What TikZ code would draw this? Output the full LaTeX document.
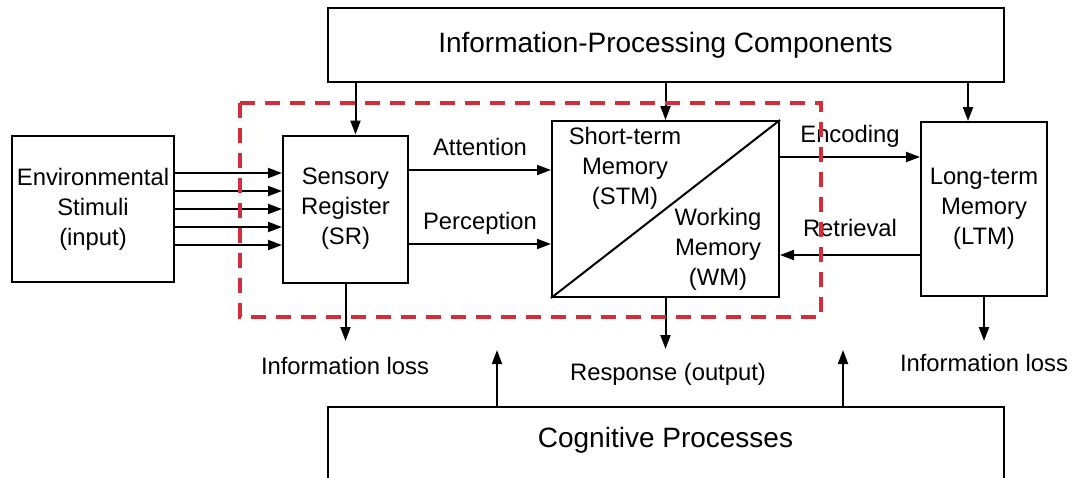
\documentclass[tikz,border=0pt]{standalone}
\usepackage{fontspec}
\setmainfont{Liberation Sans}
\usetikzlibrary{arrows.meta}
\definecolor{dashRed}{RGB}{211,45,58}
\newcommand{\lblfont}{\fontsize{11.9}{15}\selectfont}
\newcommand{\ttlfont}{\fontsize{14}{17}\selectfont}

\begin{document}
\begin{tikzpicture}[
    x=0.5pt, y=-0.5pt,
    line width=1pt,
    font=\lblfont,
    arr/.style={line width=1pt, -{Triangle[length=7pt, width=5pt]}},
    box/.style={
        rectangle,
        draw=black,
        line width=1pt,
        align=center,
        inner sep=0pt,
      },
    bigbox/.style={box, minimum width=338pt, font=\ttlfont},
    core/.style={draw=dashRed, line width=2pt, dash pattern=on 7.5pt off 5pt},
    ma/.style={midway, above=3.5pt},
    mad/.style={midway, above=0.8pt},
  ]
  \useasboundingbox (0,0) rectangle (1076,477);
  \clip (0,0) rectangle (1076,477);

  \node[bigbox, minimum height=37pt] (ipc) at (665.5,45) {Information-Processing Components};
  \node[bigbox, minimum height=60pt, anchor=north,
    label={[font=\ttlfont, anchor=center, yshift=-17pt]north:Cognitive Processes}] (cog) at (665.5,406) {};

  \node[box, minimum width=81pt, minimum height=73pt] (env) at (93,209) {Environmental\\Stimuli\\(input)};
  \node[box, minimum width=62.5pt, minimum height=73.5pt] (sr) at (345.5,209) {Sensory\\Register\\(SR)};
  \node[box, minimum width=113.5pt, minimum height=88pt] (mem) at (665.5,209) {};
  \node[align=center] (stm) at (625,168) {Short-term\\Memory\\(STM)};
  \node[align=center] (wm) at (718,249) {Working\\Memory\\(WM)};
  \node[box, minimum width=63pt, minimum height=87pt] (ltm) at (984,209) {Long-term\\Memory\\(LTM)};

  \node (lossL) at (345,366) {Information loss};
  \node (resp) at (668,374) {Response (output)};
  \node (lossR) at (984,363) {Information loss};

  \draw (mem.south west) -- (mem.north east);

  \foreach \dy in {-18pt,-9pt,0pt,9pt,18pt}
    \draw[arr] ([yshift=\dy]env.east) -- ([yshift=\dy]sr.west);

  \draw[arr] ([yshift=19.5pt]sr.east) -- ([yshift=19.5pt]sr.east -| mem.west) node[ma] {Attention};
  \draw[arr] ([yshift=-17.5pt]sr.east) -- ([yshift=-17.5pt]sr.east -| mem.west) node[mad] {Perception};
  \draw[arr] ([yshift=26pt]mem.east) -- ([yshift=26pt]mem.east -| ltm.west) node[mad] {Encoding};
  \draw[arr] ([yshift=-23pt]ltm.west) -- ([yshift=-23pt]ltm.west -| mem.east) node[midway, above=5.2pt] {Retrieval};

  \draw[arr] ([xshift=5pt]sr.north |- ipc.south) -- ([xshift=5pt]sr.north);
  \draw[arr] (ipc.south -| mem.north) -- (mem.north);
  \draw[arr] ([xshift=-8pt]ltm.north |- ipc.south) -- ([xshift=-8pt]ltm.north);

  \coordinate (srEnd) at ([yshift=-28.75pt]sr.south);
  \coordinate (memEnd) at ([yshift=-25.5pt]mem.south);
  \coordinate (ltmEnd) at ([yshift=-22pt]ltm.south);
  \draw[arr] (sr.south) -- (srEnd);
  \draw[arr] (mem.south) -- (memEnd);
  \draw[arr] (ltm.south) -- (ltmEnd);

  \coordinate (upL) at ([xshift=-84.25pt, yshift=28pt]cog.north);
  \coordinate (upR) at ([xshift=88.75pt, yshift=28pt]cog.north);
  \draw[arr] ([xshift=-84.25pt]cog.north) -- (upL);
  \draw[arr] ([xshift=88.75pt]cog.north) -- (upR);

  \draw[core] (240,103) rectangle (821,317);
\end{tikzpicture}
\end{document}
